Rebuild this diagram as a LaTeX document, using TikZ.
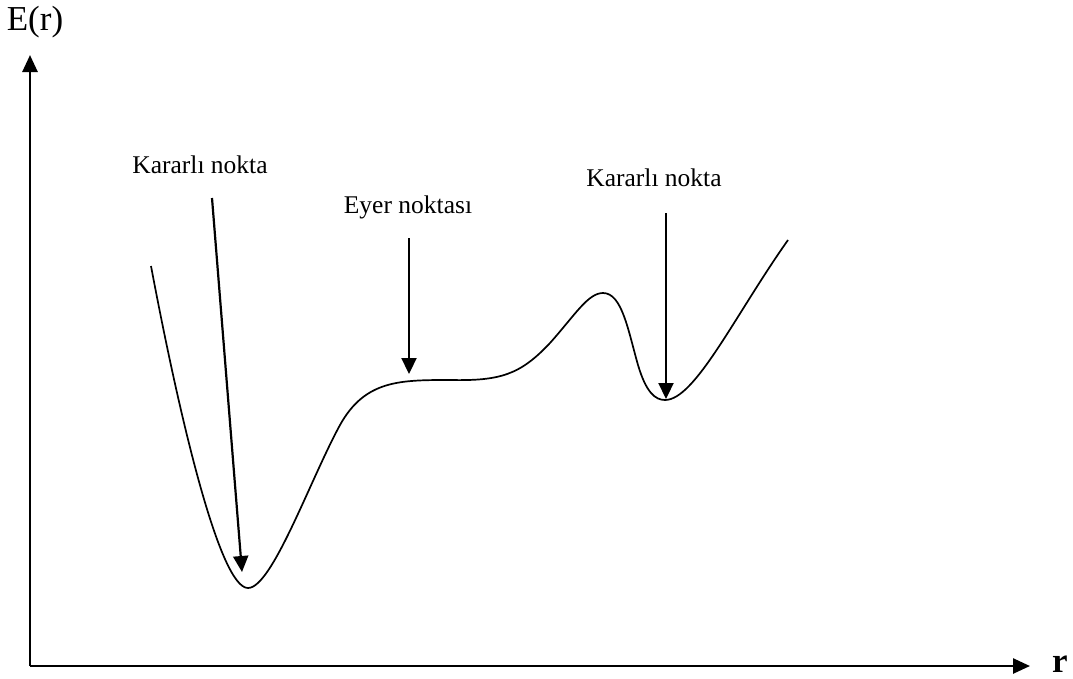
\documentclass[tikz,border=0pt]{standalone}
\usepackage{fontspec}
\setmainfont{Liberation Serif}
\usetikzlibrary{arrows.meta}
\begin{document}
\begin{tikzpicture}[x=1pt,y=-1pt,
  axis/.style={line width=2.6pt,-{Triangle[length=17pt,width=15pt]}},
  pointer/.style={line width=2.2pt,-{Triangle[length=16pt,width=15pt]}},
  curve/.style={line width=1.7pt},
  lbl/.style={font=\fontsize{25.5}{30}\selectfont,inner sep=0pt}]
\useasboundingbox (0,0) rectangle (1073,678);
% axes
\coordinate (O) at (30,666);
\coordinate (ytip) at (30,55);
\coordinate (xtip) at (1030,666);
\draw[axis] (O) -- (ytip);
\draw[axis] (O) -- (xtip);
\node[inner sep=0pt,font=\fontsize{35}{40}\selectfont] (ylab) at (35,22) {E(r)};
\node[inner sep=0pt,font=\fontsize{35}{40}\selectfont\bfseries] (xlab) at (1060,664) {r};
% curve
\draw[curve] (151,266) .. controls (180,420) and (220,588) .. (248,588)
  .. controls (272,588) and (310,480) .. (340,425)
  .. controls (365,380) and (400,380) .. (450,380)
  .. controls (500,381) and (520,375) .. (550,343)
  .. controls (575,315) and (588,293) .. (603,293)
  .. controls (622,293) and (628,330) .. (638,365)
  .. controls (646,392) and (655,400) .. (665,400)
  .. controls (695,400) and (735,315) .. (788,240);
% labels
\node[lbl] (k1) at (200,165) {Kararlı nokta};
\node[lbl] (eyer) at (408,207) {Eyer noktası};
\node[lbl] (k2) at (654,178) {Kararlı nokta};
% pointers
\coordinate (a1s) at (212,198);
\coordinate (a1e) at (242,572);
\coordinate (a2s) at (409,238);
\coordinate (a2e) at (409,374);
\coordinate (a3s) at (666,213);
\coordinate (a3e) at (666,399);
\draw[pointer] (a1s) -- (a1e);
\draw[pointer] (a2s) -- (a2e);
\draw[pointer] (a3s) -- (a3e);
\end{tikzpicture}
\end{document}
